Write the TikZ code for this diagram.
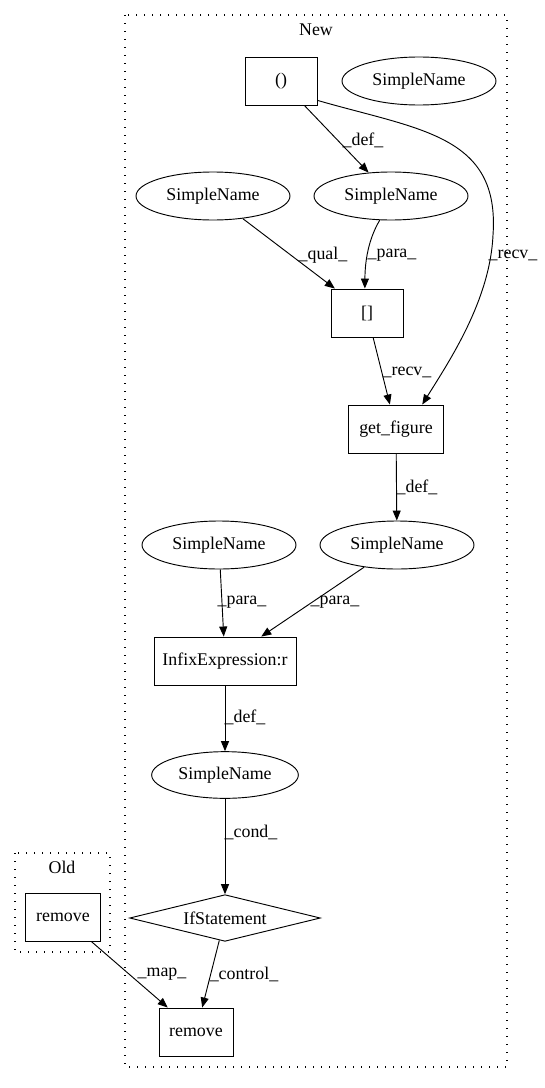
\documentclass[tikz,border=0pt]{standalone}
\usepackage{fontspec}
\setmainfont{Liberation Serif}
\usetikzlibrary{arrows.meta,shapes.geometric}

\begin{document}
\begin{tikzpicture}[x=0.75pt,y=0.75pt,yscale=-1,xscale=1,
  every node/.style={font=\fontsize{13.4}{15}\selectfont},
  box/.style={draw,rectangle,inner sep=0pt,minimum height=36pt,line width=0.7pt},
  oval/.style={draw,ellipse,inner sep=0pt,minimum width=115.5pt,minimum height=36pt,line width=0.7pt},
  cond/.style={draw,diamond,aspect=4.06,inner sep=0pt,minimum width=143pt,minimum height=35pt,line width=0.7pt},
  edge/.style={-{Triangle[length=7.5pt,width=6pt]},line width=0.7pt},
  cluster/.style={line width=0.8pt,dash pattern=on 1pt off 5pt},
  lbl/.style={inner sep=0pt}]
\useasboundingbox (0,0) rectangle (544,1088);

%Shape: Clusters
\draw [cluster] (125,15) rectangle (507,1067) ;
\draw [cluster] (15,853) rectangle (110,952) ;
% Text Node
\node (new) at (316,30) {New};
% Text Node
\node (old) at (62,867) {Old};

%Shape: Nodes
\node [box,minimum width=54pt] (paren) at (281,81) {()};
\node [oval] (snfree) at (419,81) {SimpleName};
\node [oval] (snqual) at (213,196) {SimpleName};
\node [oval] (sndef) at (391,196) {SimpleName};
\node [box,minimum width=54pt] (brack) at (367,313) {[]};
\node [box,minimum width=71pt] (getfig) at (396,429) {get\_figure};
\node [oval] (snpara) at (219,545) {SimpleName};
\node [oval] (snfig) at (397,545) {SimpleName};
\node [box,minimum width=106.5pt] (infix) at (225,661) {InfixExpression:r};
\node [oval,minimum width=110pt,minimum height=35pt] (sncond) at (225,775) {SimpleName};
\node [cond] (ifst) at (225,918) {IfStatement};
\node [box,minimum width=55.5pt] (rmnew) at (196,1032) {remove};
\node [box,minimum width=56pt] (rmold) at (63,917) {remove};

%Straight Lines
\draw [edge] (paren) -- (sndef) ;
\draw [edge] (snqual) -- (brack) ;
\draw [edge] (sndef.-115) .. controls (368,240) and (365,262) .. (brack.95) ;
\draw [edge] (paren.-28) .. controls (420,130) and (500,135) .. (493,235) .. controls (490,300) and (450,360) .. (getfig.43) ;
\draw [edge] (brack) -- (getfig) ;
\draw [edge] (getfig) -- (snfig) ;
\draw [edge] (snpara) -- (infix) ;
\draw [edge] (snfig) -- (infix) ;
\draw [edge] (infix) -- (sncond) ;
\draw [edge] (sncond) -- (ifst) ;
\draw [edge] (ifst) -- (rmnew) ;
\draw [edge] (rmold) -- (rmnew) ;

% Text Node
\node [lbl] (ldefa) at (363,140) {\_def\_};
\node [lbl] (lqual) at (323,255) {\_qual\_};
\node [lbl] (lparaa) at (392,255) {\_para\_};
\node [lbl] (lrecva) at (513,255) {\_recv\_};
\node [lbl] (lrecvb) at (407,372) {\_recv\_};
\node [lbl] (ldefb) at (417,487) {\_def\_};
\node [lbl] (lparab) at (242,602) {\_para\_};
\node [lbl] (lparac) at (335,602) {\_para\_};
\node [lbl] (ldefc) at (245,717) {\_def\_};
\node [lbl] (lcond) at (251,832) {\_cond\_};
\node [lbl] (lcontrol) at (244,974) {\_control\_};
\node [lbl] (lmap) at (162,974) {\_map\_};

\end{tikzpicture}
\end{document}
